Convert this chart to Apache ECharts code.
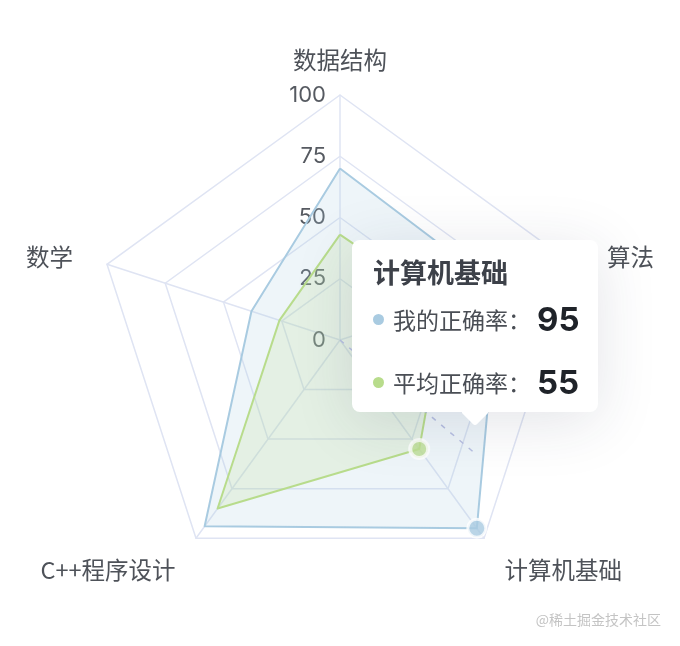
<!DOCTYPE html>
<html>
<head>
<meta charset="utf-8">
<title>正确率雷达图</title>
<script src="https://cdn.jsdelivr.net/npm/echarts@6/dist/echarts.min.js"></script>
<style>
  html, body { margin: 0; padding: 0; background: #fff; }
  #chart-wrapper { width: 680px; height: 646px; }
</style>
</head>
<body>
<div id="chart-wrapper"></div>
<script>
// radar goes counter-clockwise from the top
const subjects = ['数据结构', '数学', 'C++程序设计', '计算机基础', '算法'];
const maxScore = [100, 100, 100, 100, 100];
const myRate = [70, 38, 94, 95, 68];
const avgRate = [43, 26, 85, 55, 45];
const seriesNames = ['我的正确率', '平均正确率'];
const colors = ['#a9cbe1', '#b8dc8c'];
const activeIndex = 3; // 计算机基础 is hovered

const font = '"Noto Sans CJK SC", "Noto Sans", sans-serif';
const numFont = 'Inter, "Noto Sans CJK SC", sans-serif';
const cx = 340, cy = 340, R = 245;

// extra offset for the side names, the top one sits closer
const nameStyle = {
  '数据结构': 'top',
  '数学': 'left',
  'C++程序设计': 'bl',
  '计算机基础': 'br',
  '算法': 'right'
};

function tipHtml() {
  const rows = [myRate, avgRate].map(function (arr, i) {
    return '<div style="position:absolute;left:21px;top:' + (i === 0 ? 59 : 122) + 'px;height:40px;display:flex;align-items:center;white-space:nowrap;">' +
      '<span style="display:inline-block;width:11px;height:11px;border-radius:50%;background:' + colors[i] + ';margin-right:9px;"></span>' +
      '<span style="display:inline-block;width:144px;font-size:23px;color:#4a4e55;">' + seriesNames[i] + '：</span>' +
      '<span style="font-size:33px;font-weight:bold;color:#1f2329;font-family:' + numFont.replace(/"/g, "'") + ';">' + arr[activeIndex] + '</span>' +
      '</div>';
  }).join('');
  return '<div style="position:relative;width:246px;height:172px;background:#fff;border-radius:8px;' +
    'box-shadow:0 10px 60px rgba(40,50,80,0.13);font-family:' + font.replace(/"/g, "'") + ';">' +
    '<div style="position:absolute;left:113px;top:162px;width:20px;height:20px;background:#fff;transform:rotate(45deg);border-radius:3px;"></div>' +
    '<div style="position:absolute;left:21px;top:18px;font-size:27px;line-height:28px;font-weight:bold;color:#3d4149;white-space:nowrap;">' + subjects[activeIndex] + '</div>' +
    rows +
    '</div>';
}

const chartDom = document.getElementById('chart-wrapper');
const myChart = echarts.init(chartDom);

const pointerAngle = -40 * Math.PI / 180;
const pointerLen = 176;

const nameBase = { fontSize: 23.5, color: '#4e5259', fontFamily: font };

const option = {
  animation: false,
  textStyle: { fontFamily: font },
  tooltip: {
    trigger: 'item',
    triggerOn: 'none',
    alwaysShowContent: true,
    transitionDuration: 0,
    padding: 0,
    borderWidth: 0,
    backgroundColor: 'transparent',
    extraCssText: 'box-shadow:none;',
    position: [352, 240],
    formatter: function () {
      return tipHtml();
    }
  },
  radar: {
    center: [cx, cy],
    radius: R,
    startAngle: 90,
    splitNumber: 4,
    shape: 'polygon',
    nameGap: 23,
    indicator: subjects.map(function (name, i) {
      return { name: name, min: 0, max: maxScore[i], axisLabel: { show: i === 0 } };
    }),
    axisName: {
      color: '#4e5259',
      fontSize: 23.5,
      fontFamily: font,
      formatter: function (name) {
        return '{' + nameStyle[name] + '|' + name + '}';
      },
      rich: {
        top: Object.assign({}, nameBase),
        left: Object.assign({ padding: [0, 12, 0, 0] }, nameBase),
        right: Object.assign({ padding: [0, 0, 0, 12] }, nameBase),
        bl: Object.assign({ padding: [26, 7, 0, 0] }, nameBase),
        br: Object.assign({ padding: [26, 0, 0, 7] }, nameBase)
      }
    },
    axisLine: { lineStyle: { color: '#dfe4f3', width: 1.5 } },
    splitLine: { lineStyle: { color: '#dfe4f3', width: 1.5 } },
    splitArea: { show: false },
    axisTick: { show: false },
    axisLabel: { show: false, color: '#565a61', fontSize: 22, margin: 14, fontFamily: numFont }
  },
  polar: { center: [cx, cy], radius: R },
  angleAxis: {
    type: 'category',
    data: subjects,
    startAngle: 90,
    clockwise: false,
    boundaryGap: false,
    show: false,
    axisLine: { show: false }, axisTick: { show: false }, axisLabel: { show: false }, splitLine: { show: false }
  },
  radiusAxis: {
    min: 0, max: 100, show: false,
    axisLine: { show: false }, axisTick: { show: false }, axisLabel: { show: false }, splitLine: { show: false }
  },
  graphic: [
    {
      type: 'line',
      z: 10,
      silent: true,
      shape: {
        x1: cx, y1: cy,
        x2: cx + pointerLen * Math.cos(pointerAngle),
        y2: cy - pointerLen * Math.sin(pointerAngle)
      },
      style: { stroke: '#b7bfe2', lineWidth: 1.5, lineDash: [5, 7] }
    },
    {
      type: 'text',
      right: 19,
      bottom: 19,
      silent: true,
      style: { text: '@稀土掘金技术社区', fill: '#c4c4c4', fontSize: 14, fontFamily: font }
    }
  ],
  series: [
    {
      type: 'radar',
      symbol: 'none',
      data: [
        {
          name: seriesNames[0],
          value: myRate,
          lineStyle: { color: colors[0], width: 2 },
          itemStyle: { color: colors[0] },
          areaStyle: { color: colors[0], opacity: 0.2 }
        },
        {
          name: seriesNames[1],
          value: avgRate,
          lineStyle: { color: colors[1], width: 2 },
          itemStyle: { color: colors[1] },
          areaStyle: { color: colors[1], opacity: 0.2 }
        }
      ]
    },
    // active points at the hovered indicator
    {
      type: 'scatter',
      coordinateSystem: 'polar',
      silent: true,
      z: 5,
      symbolSize: 18,
      itemStyle: { color: colors[0], borderColor: '#fff', borderWidth: 3 },
      data: [[myRate[activeIndex], activeIndex]]
    },
    {
      type: 'scatter',
      coordinateSystem: 'polar',
      silent: true,
      z: 5,
      symbolSize: 18,
      itemStyle: { color: '#bedf93', borderColor: '#fff', borderWidth: 4 },
      data: [[avgRate[activeIndex], activeIndex]]
    }
  ]
};

option && myChart.setOption(option);
myChart.dispatchAction({ type: 'showTip', seriesIndex: 0, dataIndex: 0 });
</script>
</body>
</html>
